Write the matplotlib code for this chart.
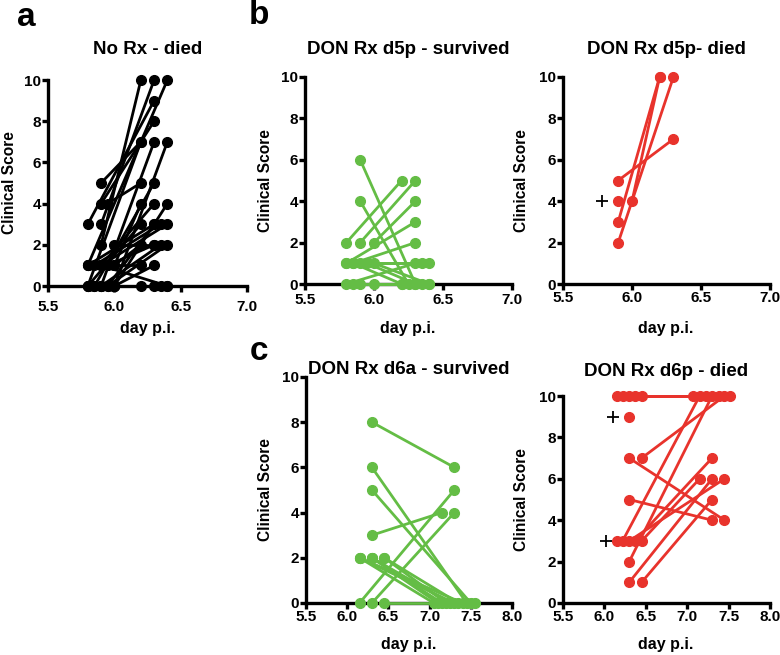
# -*- coding: utf-8 -*-
import numpy as np
import matplotlib
matplotlib.use('Agg')
import matplotlib.pyplot as plt

plt.rcParams['font.family'] = ['Liberation Sans', 'DejaVu Sans']
plt.rcParams['font.weight'] = 'bold'

BLACK = '#000000'
GREEN = '#64BD45'
RED = '#E8332C'

# a: No Rx - died  (start day, start score) -> (end day, end score)
a_x0 = [5.9, 5.8, 5.9, 5.95, 5.9, 5.9, 5.8, 5.9, 5.8, 6.0, 5.85, 6.0, 5.9, 6.0, 5.8, 5.85,
        5.9, 5.95, 6.0, 6.0, 5.9, 5.95, 5.8, 6.0, 5.9, 5.8, 5.85, 5.9, 6.0, 5.95, 5.8]
a_y0 = [5, 3, 4, 4, 3, 2, 1, 0, 0, 0, 0, 1, 1, 0, 1, 1, 1, 0, 1, 2, 0, 0, 1, 0, 1, 0, 0, 0, 0, 1, 0]
a_x1 = [6.2, 6.3, 6.3, 6.2, 6.3, 6.2, 6.4, 6.3, 6.2, 6.4, 6.3, 6.2, 6.3, 6.4, 6.3, 6.35,
        6.4, 6.3, 6.2, 6.3, 6.35, 6.4, 6.2, 6.3, 6.4, 6.2, 6.3, 6.35, 6.4, 6.3, 6.2]
a_y1 = [7, 9, 8, 5, 10, 10, 10, 7, 7, 7, 5, 4, 4, 4, 3, 3, 3, 3, 2, 2, 2, 2, 1, 1, 0, 0, 0, 0, 0, 2, 3]

# b: DON Rx d5p - survived
b_x0 = [5.9, 5.9, 5.8, 5.9, 6.0, 5.8, 5.85, 5.9, 5.8, 5.85, 5.95, 6.0, 5.8, 5.85, 5.9, 6.0]
b_y0 = [6, 4, 2, 2, 2, 1, 1, 1, 1, 1, 1, 1, 0, 0, 0, 0]
b_x1 = [6.3, 6.25, 6.2, 6.3, 6.3, 6.3, 6.3, 6.35, 6.4, 6.2, 6.3, 6.4, 6.3, 6.2, 6.35, 6.4]
b_y1 = [0, 0, 5, 5, 4, 3, 2, 1, 1, 0, 0, 0, 1, 0, 0, 0]

# b: DON Rx d5p- died
d5_x0 = [5.9, 5.9, 5.9, 6.0]
d5_y0 = [5, 3, 2, 4]
d5_x1 = [6.3, 6.2, 6.3, 6.2]
d5_y1 = [7, 10, 10, 10]
d5_sx = [5.9]
d5_sy = [4]
d5_px = [5.78]
d5_py = [4]

# c: DON Rx d6a - survived
c_x0 = [6.3, 6.3, 6.3, 6.3, 6.15, 6.3, 6.45, 6.15, 6.15, 6.3, 6.3, 6.45, 6.45, 6.3, 6.15]
c_y0 = [8, 6, 5, 3, 0, 0, 0, 2, 2, 2, 2, 2, 2, 2, 2]
c_x1 = [7.3, 7.45, 7.5, 7.15, 7.3, 7.3, 7.55, 7.05, 7.4, 7.15, 7.25, 7.35, 7.2, 7.1, 7.3]
c_y1 = [6, 0, 0, 4, 5, 4, 0, 0, 0, 0, 0, 0, 0, 0, 0]

# c: DON Rx d6p - died
d6_x0 = [6.15, 6.22, 6.3, 6.37, 6.45, 6.3, 6.3, 6.22, 6.3, 6.37, 6.45, 6.3, 6.3, 6.45]
d6_y0 = [10, 10, 10, 10, 7, 7, 5, 3, 2, 3, 3, 1, 3, 1]
d6_x1 = [7.52, 7.07, 7.23, 7.38, 7.45, 7.45, 7.3, 7.15, 7.3, 7.3, 7.15, 7.3, 7.45, 7.3]
d6_y1 = [10, 10, 10, 10, 10, 4, 4, 10, 10, 7, 6, 6, 6, 5]
d6_sx = [6.45, 6.3, 6.15]
d6_sy = [10, 9, 3]
d6_px = [6.1, 6.02]
d6_py = [9, 3]

W, H = 780, 655
fig = plt.figure(figsize=(W / 100, H / 100), dpi=100)


def make_ax(l, t, r, b, xmax, xpad):
    ax = fig.add_axes([l / W, 1 - b / H, (r - l) / W, (b - t) / H])
    ax.set_xlim(5.5, xmax)
    ax.set_ylim(0, 10)
    ax.set_xticks(np.arange(5.5, xmax + 0.01, 0.5))
    ax.set_xticklabels(['%.1f' % v for v in np.arange(5.5, xmax + 0.01, 0.5)])
    ax.set_yticks(range(0, 11, 2))
    for s in ['top', 'right']:
        ax.spines[s].set_visible(False)
    for s in ['left', 'bottom']:
        ax.spines[s].set_linewidth(2.4)
    ax.tick_params(width=2.4, length=4.3, labelsize=11)
    ax.tick_params(axis='y', pad=0.5)
    ax.tick_params(axis='x', pad=xpad)
    for lab in ax.get_xticklabels() + ax.get_yticklabels():
        lab.set_fontweight('bold')
    ax.patch.set_alpha(0)
    return ax


def draw(ax, x0, y0, x1, y1, color, sx=(), sy=(), plx=(), ply=()):
    for xa, ya, xb, yb in zip(x0, y0, x1, y1):
        ax.plot([xa, xb], [ya, yb], color=color, lw=2, marker='o', ms=7,
                clip_on=False, zorder=3)
    if len(sx):
        ax.plot(sx, sy, 'o', color=color, ms=7, clip_on=False, zorder=3)
    if len(plx):
        ax.plot(plx, ply, '+', color='black', ms=8, mew=1.3, clip_on=False, zorder=3)


def label(x, y, s, size, rot=0):
    fig.text(x / W, 1 - y / H, s, fontsize=size, fontweight='bold',
             ha='center', va='center', rotation=rot)


ax1 = make_ax(48, 80, 247, 286, 7.0, 6)
draw(ax1, a_x0, a_y0, a_x1, a_y1, BLACK)
ax2 = make_ax(305, 77, 512, 284, 7.0, 2)
draw(ax2, b_x0, b_y0, b_x1, b_y1, GREEN)
ax3 = make_ax(563, 77, 770, 284, 7.0, 1)
draw(ax3, d5_x0, d5_y0, d5_x1, d5_y1, RED, d5_sx, d5_sy, d5_px, d5_py)
ax4 = make_ax(306, 377, 512, 603, 8.0, 1)
draw(ax4, c_x0, c_y0, c_x1, c_y1, GREEN)
ax5 = make_ax(563, 396, 770, 603, 8.0, 1)
draw(ax5, d6_x0, d6_y0, d6_x1, d6_y1, RED, d6_sx, d6_sy, d6_px, d6_py)

# titles
label(148, 50, 'No Rx - died', 13.5)
label(408, 50, 'DON Rx d5p - survived', 13.5)
label(666, 50, 'DON Rx d5p- died', 13.5)
label(409, 369, 'DON Rx d6a - survived', 13.5)
label(666, 371, 'DON Rx d6p - died', 13.5)

# axis labels
for x, yc in [(10, 183), (266, 181), (522, 181), (265, 490), (522, 500)]:
    label(x, yc, 'Clinical Score', 11.2, rot=90)
for xc, y in [(148, 329), (408, 329), (666, 329), (409, 645), (666, 645)]:
    label(xc, y, 'day p.i.', 11.5)

# panel letters
label(26, 17, 'a', 24)
label(259, 15, 'b', 24)
label(259, 352, 'c', 24)

plt.savefig('out.png', dpi=100)
